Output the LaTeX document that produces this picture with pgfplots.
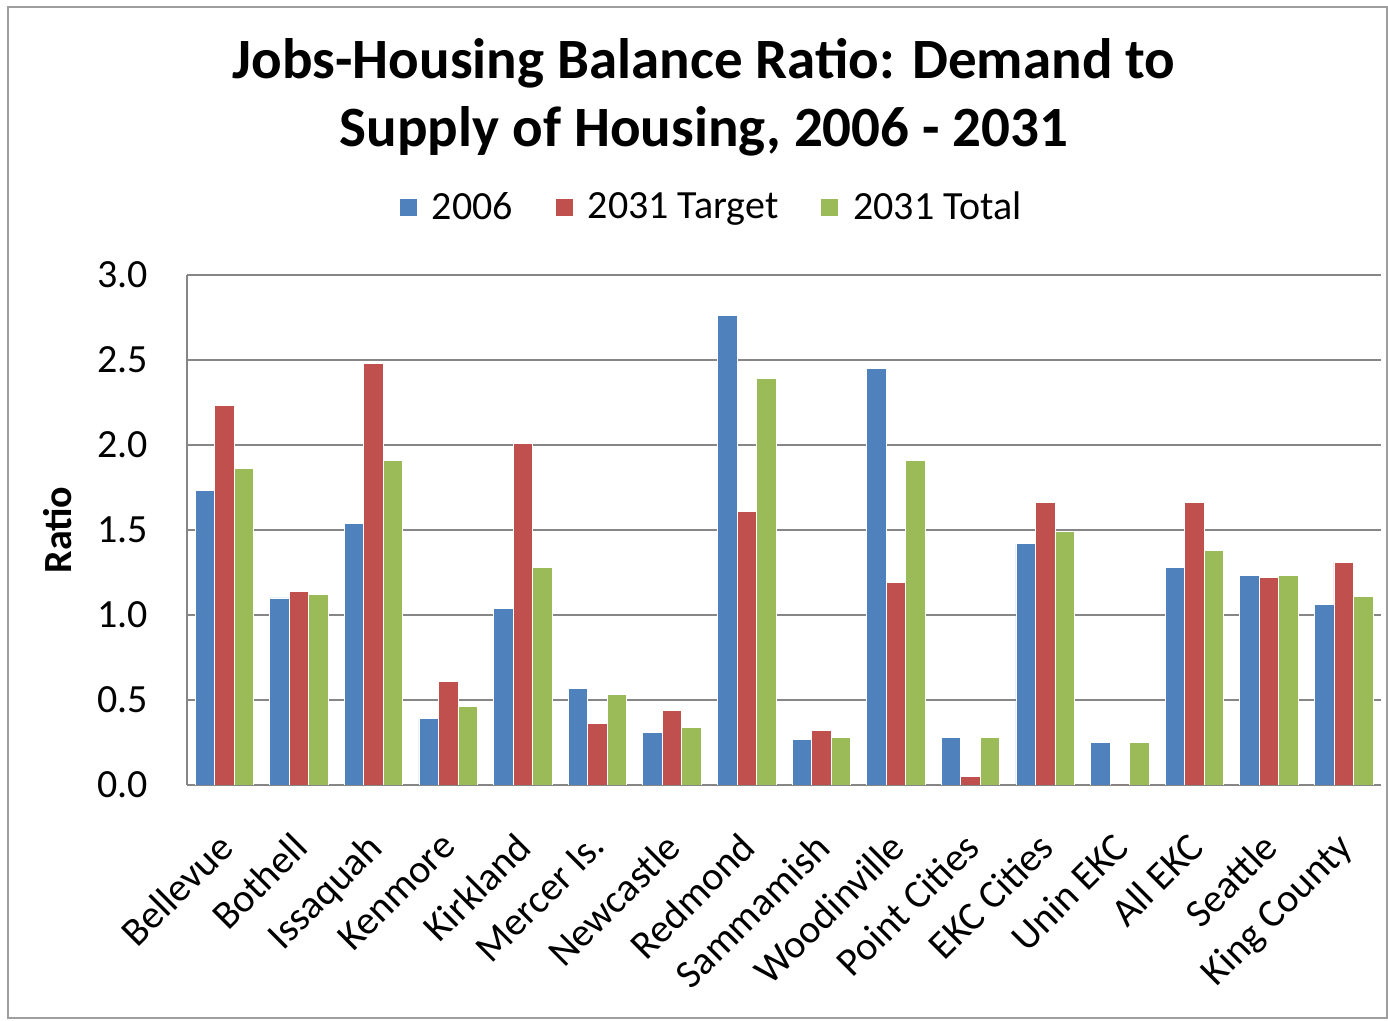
\documentclass[border=0pt]{standalone}
\usepackage{pgfplots}
\pgfplotsset{compat=1.18}
\usepackage{pgfplotstable}
\usepackage{fontspec}
\setmainfont{Carlito}
\definecolor{cblue}{HTML}{4F81BD}
\definecolor{cred}{HTML}{C0504D}
\definecolor{cgreen}{HTML}{9BBB59}
\definecolor{gridgray}{RGB}{134,134,134}
\pgfplotstableread{
x y2006 t2031 tot2031
0  1.73 2.23 1.86
1  1.10 1.14 1.12
2  1.54 2.48 1.91
3  0.39 0.61 0.46
4  1.04 2.01 1.28
5  0.57 0.36 0.53
6  0.31 0.44 0.34
7  2.76 1.61 2.39
8  0.27 0.32 0.28
9  2.45 1.19 1.91
10 0.28 0.05 0.28
11 1.42 1.66 1.49
12 0.25 0.00 0.25
13 1.28 1.66 1.38
14 1.23 1.22 1.23
15 1.06 1.31 1.11
}\datatable
\begin{document}
\begin{tikzpicture}[x=1pt,y=1pt]
\path (0,0) rectangle (694,510.5);
\draw[gridgray!80,line width=0.8pt] (4,1.5) rectangle (693.5,507);
\node[font=\bfseries\fontsize{28.5}{34}\selectfont,align=center] at (352,462) {Jobs-Housing Balance Ratio: Demand to\\Supply of Housing, 2006 - 2031};
\node[font=\bfseries\fontsize{20}{24}\selectfont,rotate=90] at (29,245.5) {Ratio};
\begin{axis}[
  at={(93.5pt,118pt)}, anchor=south west,
  scale only axis, width=597pt, height=255pt,
  xmin=-0.5, xmax=15.5, ymin=0, ymax=3,
  ytick={0,0.5,...,3}, xtick={0,...,15},
  xticklabels={Bellevue,Bothell,Issaquah,Kenmore,Kirkland,Mercer Is.,Newcastle,Redmond,Sammamish,Woodinville,Point Cities,EKC Cities,Unin EKC,All EKC,Seattle,King County},
  xticklabel style={xshift=-4.4pt, yshift=-22.5pt, rotate=45, anchor=north east, font=\fontsize{20}{24}\selectfont, inner sep=0pt},
  yticklabel style={font=\fontsize{20}{24}\selectfont, xshift=-16pt, /pgf/number format/fixed, /pgf/number format/fixed zerofill, /pgf/number format/precision=1},
  /pgf/number format/assume math mode=true,
  major tick length=0pt,
  axis x line*=bottom, axis y line*=left,
  axis line style={gridgray, line width=0.8pt},
  ymajorgrids, grid style={gridgray, line width=0.6pt},
  ybar=0pt, bar width=9.75pt,
  legend columns=3,
  legend style={at={(0.44,1.133)}, anchor=center, draw=none, font=\fontsize{20}{24}\selectfont,
    /tikz/every odd column/.append style={column sep=5pt},
    /tikz/every even column/.append style={column sep=19pt}},
  legend image code/.code={\fill[#1] (0pt,-4.5pt) rectangle (9pt,4.5pt);},
]
\addplot[fill=cblue, draw=white, line width=0.4pt] table[x=x,y=y2006] {\datatable};
\addplot[fill=cred, draw=white, line width=0.4pt] table[x=x,y=t2031] {\datatable};
\addplot[fill=cgreen, draw=white, line width=0.4pt] table[x=x,y=tot2031] {\datatable};
\legend{2006,2031 Target,2031 Total}
\end{axis}
\end{tikzpicture}
\end{document}
